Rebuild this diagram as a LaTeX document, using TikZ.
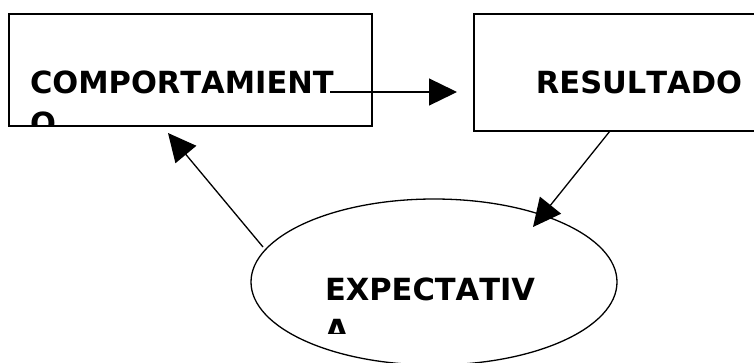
\documentclass[tikz,border=0pt]{standalone}
\usepackage{fontspec}
\setmainfont[Kerning=Off]{DejaVu Sans}
\usepackage{tikz}
\usetikzlibrary{arrows.meta,positioning,shapes.geometric}
\tikzset{%
	boxframe/.style  = {draw, rectangle, line width=2pt, inner sep=0pt, outer sep=0pt},
	ovalframe/.style = {draw, ellipse, line width=1.3pt, inner sep=0pt, outer sep=0pt},
	bigtext/.style   = {draw=none, rectangle, minimum width=0pt, minimum height=0pt, font=\fontsize{30.5}{41}\selectfont\bfseries, inner sep=0pt, text width=340pt, align=left},
	arrow/.style     = {line width=1.3pt, -{Triangle[length=28pt,width=27pt]}},
}
\begin{document}
\begin{tikzpicture}[x=1pt,y=-1pt]
	\useasboundingbox (0,0) rectangle (754,362);
	\clip (0,0) rectangle (754,362);
	
	\node[boxframe, minimum width=363pt, minimum height=112pt,
		path picture={\node[bigtext, anchor=base west] at ([shift={(21,79)}]path picture bounding box.north west) {COMPORTAMIENT\\O};}] (comp) at (190.5,70) {};  % left box
	\node[boxframe, minimum width=330pt, minimum height=117pt,
		path picture={\node[bigtext, align=center, anchor=base] at ([shift={(0,79)}]path picture bounding box.north) {RESULTADO};}] (res) at (639,72.5) {};  % right box
	\node[ovalframe, minimum width=366pt, minimum height=166pt,
		path picture={\begin{scope}
			\clip (path picture bounding box.north west) rectangle ([shift={(0,134)}]path picture bounding box.north east);
			\node[bigtext, anchor=base west] at ([shift={(74,101)}]path picture bounding box.north west) {EXPECTATIV\\A};
		\end{scope}}] (expect) at (434,282) {};  % ellipse
	
	\coordinate (c1) at ([shift={(139.5,22)}]comp.center);
	\draw[arrow, shorten >=17pt] (c1) -- (c1 -| res.west);
	\draw[arrow] ([xshift=-29pt]res.south) -- ([shift={(99,-55)}]expect.center);
	\draw[arrow] ([shift={(-171,-35)}]expect.center) -- ([shift={(-22.5,7)}]comp.south);
\end{tikzpicture}
\end{document}
